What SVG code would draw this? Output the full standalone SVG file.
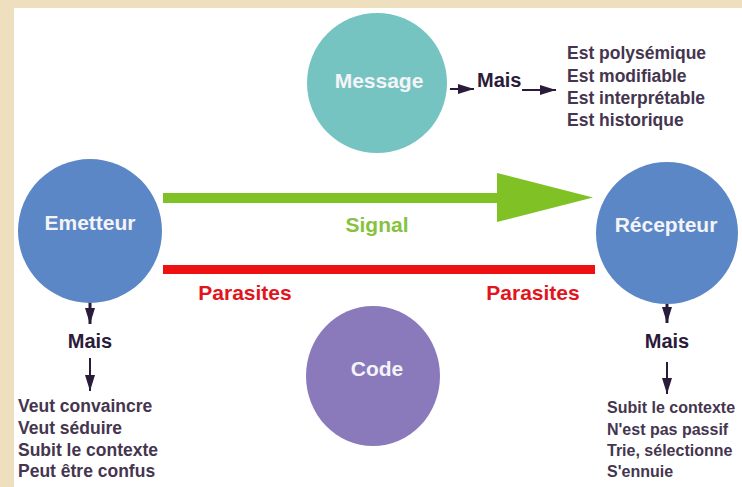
<svg xmlns="http://www.w3.org/2000/svg" width="742" height="487" viewBox="0 0 742 487">
<defs>
<style>
.node-text{font-family:"Liberation Sans",Arial,sans-serif;font-weight:bold;font-size:21px;fill:#f4f4f8;text-anchor:middle}
.mais{font-family:"Liberation Sans",Arial,sans-serif;font-weight:bold;font-size:20px;fill:#2b1b3b}
.list{font-family:"Liberation Sans",Arial,sans-serif;font-weight:bold;font-size:17.5px;fill:#45354f}
.list-r{font-family:"Liberation Sans",Arial,sans-serif;font-weight:bold;font-size:16px;fill:#45354f}
.red{font-family:"Liberation Sans",Arial,sans-serif;font-weight:bold;font-size:21px;fill:#e2141c;text-anchor:middle}
.green{font-family:"Liberation Sans",Arial,sans-serif;font-weight:bold;font-size:21px;fill:#86c23e;text-anchor:middle}
.arr{stroke:#2b1b3b;stroke-width:2;fill:none;marker-end:url(#ah)}
</style>
<marker id="ah" markerUnits="userSpaceOnUse" markerWidth="16" markerHeight="10" refX="16" refY="5" orient="auto">
<path d="M0,0 L16,5 L0,10 z" fill="#2b1b3b"/>
</marker>
</defs>
<rect x="0" y="0" width="742" height="487" fill="#eedfbf"/>
<rect x="14" y="8" width="728" height="479" fill="#ffffff"/>

<g id="connectors">
<polygon points="163,193 497,193 497,173 593,197.5 497,222 497,203 163,203" fill="#80c226"/>
<rect x="163" y="265" width="432" height="9" fill="#ee1111"/>
<line class="arr" x1="450" y1="89" x2="474" y2="89"/>
<line class="arr" x1="522" y1="90" x2="556" y2="90"/>
<line class="arr" x1="90" y1="301" x2="90" y2="324" style="stroke-width:3"/>
<line class="arr" x1="90" y1="358" x2="90" y2="391"/>
<line class="arr" x1="667" y1="301" x2="667" y2="323" style="stroke-width:3"/>
<line class="arr" x1="667" y1="362" x2="667" y2="394"/>
<text class="green" x="377" y="232">Signal</text>
<text class="red" x="245" y="300">Parasites</text>
<text class="red" x="533" y="300">Parasites</text>
</g>

<g id="message">
<circle cx="377" cy="83" r="70" fill="#76c4c2"/>
<text class="node-text" x="379" y="88">Message</text>
<text class="mais" x="477" y="87">Mais</text>
<text class="list" x="567" y="59">Est polysémique</text>
<text class="list" x="567" y="82">Est modifiable</text>
<text class="list" x="567" y="104">Est interprétable</text>
<text class="list" x="567" y="126">Est historique</text>
</g>

<g id="emetteur">
<circle cx="90" cy="231" r="72" fill="#5b87c6"/>
<text class="node-text" x="90" y="230">Emetteur</text>
<text class="mais" x="90" y="348" text-anchor="middle">Mais</text>
<text class="list" x="18" y="412">Veut convaincre</text>
<text class="list" x="18" y="434">Veut séduire</text>
<text class="list" x="18" y="456">Subit le contexte</text>
<text class="list" x="18" y="477">Peut être confus</text>
</g>

<g id="recepteur">
<circle cx="667" cy="233" r="71" fill="#5b87c6"/>
<text class="node-text" x="666" y="232">Récepteur</text>
<text class="mais" x="667" y="348" text-anchor="middle">Mais</text>
<text class="list-r" x="607" y="413">Subit le contexte</text>
<text class="list-r" x="607" y="435">N'est pas passif</text>
<text class="list-r" x="607" y="456">Trie, sélectionne</text>
<text class="list-r" x="607" y="477">S'ennuie</text>
</g>

<g id="code">
<ellipse cx="373" cy="376" rx="67" ry="70" fill="#8a79bb"/>
<text class="node-text" x="377" y="376">Code</text>
</g>
</svg>
